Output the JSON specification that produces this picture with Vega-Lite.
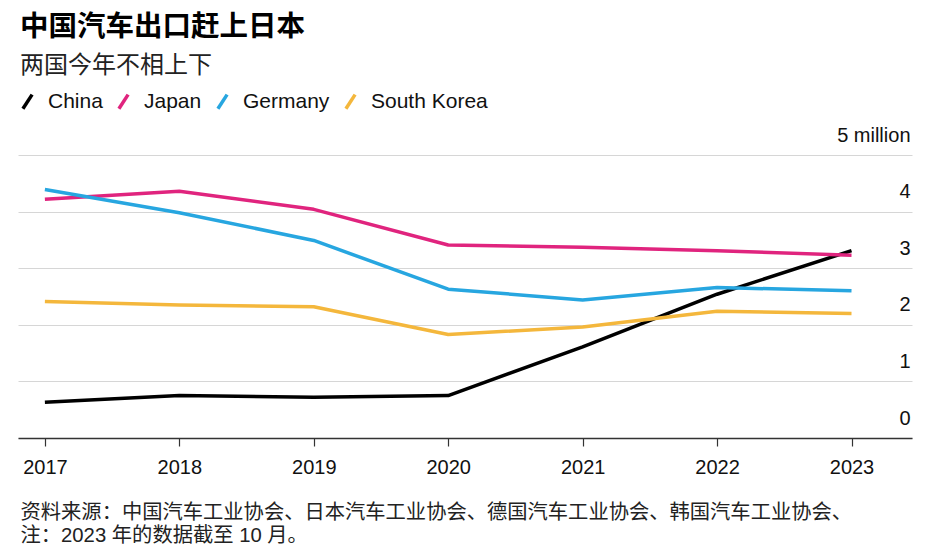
{
  "$schema": "https://vega.github.io/schema/vega-lite/v6.json",
  "width": 894,
  "height": 283,
  "autosize": {"type": "none"},
  "padding": {"left": 18, "top": 155, "right": 32, "bottom": 113},
  "background": "white",
  "config": {
    "font": "Liberation Sans, Noto Sans CJK SC",
    "view": {"stroke": null}
  },
  "title": {
    "text": "中国汽车出口赶上日本",
    "subtitle": "两国今年不相上下",
    "anchor": "start",
    "frame": "group",
    "orient": "top",
    "font": "Liberation Sans, Noto Sans CJK SC",
    "fontSize": 28.5,
    "fontWeight": "bold",
    "color": "#000000",
    "subtitleFont": "Liberation Sans, Noto Sans CJK SC",
    "subtitleFontSize": 24,
    "subtitleColor": "#222222",
    "subtitlePadding": 13,
    "dx": 2,
    "offset": 13
  },
  "data": {
    "values": [
      {"year": 2017, "country": "China", "exports": 0.63},
      {"year": 2018, "country": "China", "exports": 0.75},
      {"year": 2019, "country": "China", "exports": 0.72},
      {"year": 2020, "country": "China", "exports": 0.75},
      {"year": 2021, "country": "China", "exports": 1.61},
      {"year": 2022, "country": "China", "exports": 2.54},
      {"year": 2023, "country": "China", "exports": 3.31},
      {"year": 2017, "country": "Japan", "exports": 4.22},
      {"year": 2018, "country": "Japan", "exports": 4.36},
      {"year": 2019, "country": "Japan", "exports": 4.04},
      {"year": 2020, "country": "Japan", "exports": 3.41},
      {"year": 2021, "country": "Japan", "exports": 3.37},
      {"year": 2022, "country": "Japan", "exports": 3.31},
      {"year": 2023, "country": "Japan", "exports": 3.23},
      {"year": 2017, "country": "Germany", "exports": 4.39},
      {"year": 2018, "country": "Germany", "exports": 3.98},
      {"year": 2019, "country": "Germany", "exports": 3.49},
      {"year": 2020, "country": "Germany", "exports": 2.63},
      {"year": 2021, "country": "Germany", "exports": 2.44},
      {"year": 2022, "country": "Germany", "exports": 2.66},
      {"year": 2023, "country": "Germany", "exports": 2.6},
      {"year": 2017, "country": "South Korea", "exports": 2.41},
      {"year": 2018, "country": "South Korea", "exports": 2.35},
      {"year": 2019, "country": "South Korea", "exports": 2.32},
      {"year": 2020, "country": "South Korea", "exports": 1.83},
      {"year": 2021, "country": "South Korea", "exports": 1.96},
      {"year": 2022, "country": "South Korea", "exports": 2.24},
      {"year": 2023, "country": "South Korea", "exports": 2.2}
    ]
  },
  "mark": {"type": "line", "strokeWidth": 3.5, "strokeJoin": "round", "strokeCap": "butt"},
  "encoding": {
    "x": {
      "field": "year",
      "type": "quantitative",
      "scale": {"domain": [2016.8, 2023.45], "nice": false, "zero": false},
      "axis": {
        "values": [2017, 2018, 2019, 2020, 2021, 2022, 2023],
        "format": "d",
        "grid": false,
        "domainColor": "#333333",
        "domainWidth": 1.5,
        "tickColor": "#333333",
        "tickWidth": 1.2,
        "tickSize": 8,
        "labelPadding": 11,
        "labelFontSize": 20,
        "labelColor": "#111111",
        "labelFlush": false,
        "labelBaseline": "top",
        "title": ["资料来源：中国汽车工业协会、日本汽车工业协会、德国汽车工业协会、韩国汽车工业协会、", "注：2023 年的数据截至 10 月。"],
        "titleFontSize": 20.3,
        "titleFontWeight": "normal",
        "titleColor": "#222222",
        "titleAnchor": "start",
        "titleAlign": "left",
        "titleBaseline": "top",
        "titleX": 2,
        "titleY": 64,
        "titleLineHeight": 23
      }
    },
    "y": {
      "field": "exports",
      "type": "quantitative",
      "scale": {"domain": [0, 5], "nice": false},
      "axis": {
        "orient": "right",
        "values": [0, 1, 2, 3, 4, 5],
        "labelExpr": "datum.value == 5 ? '5 million' : datum.label",
        "grid": true,
        "gridColor": "#d6d6d6",
        "gridWidth": 1,
        "domain": false,
        "ticks": false,
        "labelAlign": "right",
        "labelBaseline": "middle",
        "labelPadding": -2,
        "labelOffset": -20,
        "labelFontSize": 20,
        "labelColor": "#111111",
        "labelFlush": false,
        "labelOverlap": false,
        "labelBound": false,
        "title": null
      }
    },
    "color": {
      "field": "country",
      "type": "nominal",
      "scale": {
        "domain": ["China", "Japan", "Germany", "South Korea"],
        "range": ["#000000", "#e0247e", "#27a6e0", "#f4b73c"]
      },
      "legend": {
        "orient": "none",
        "legendX": -1,
        "legendY": -64,
        "direction": "horizontal",
        "title": null,
        "symbolType": "M-0.65,1L0.65,-1",
        "symbolSize": 200,
        "symbolStrokeWidth": 3.5,
        "labelFontSize": 21,
        "labelColor": "#111111",
        "labelOffset": 10,
        "columnPadding": 8
      }
    }
  }
}
